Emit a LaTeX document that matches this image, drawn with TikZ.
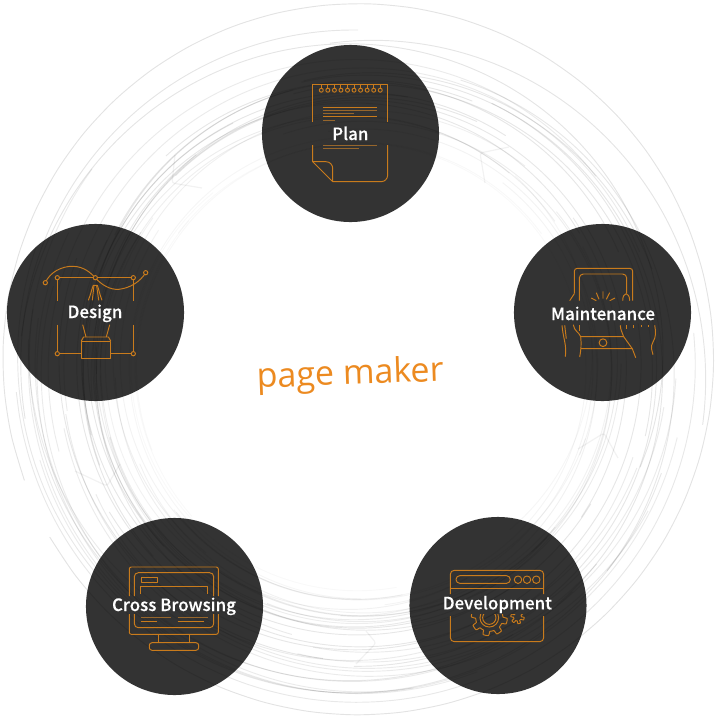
\documentclass[tikz,border=0pt]{standalone}
\usepackage{fontspec}
\newfontfamily\lblfont[UprightFont=* Medium,FakeBold=0.25]{Noto Sans CJK KR}
\newfontfamily\handfont{Open Sans}
\definecolor{disc}{HTML}{333333}
\definecolor{ico}{HTML}{C97B1C}
\definecolor{icodim}{HTML}{96662C}
\definecolor{hand}{HTML}{EC8A20}
\tikzset{
  stagecircle/.style={circle,fill=disc,minimum size=132.8pt,inner sep=0pt},
  lbl/.style={text=white,font=\lblfont\fontsize{12.7pt}{14pt}\selectfont,inner sep=0pt,anchor=base},
  icon/.style={draw=ico,line width=0.72pt,line join=round},
  dimline/.style={draw=icodim,line width=0.72pt},
  scribble/.style={draw=black,line width=0.7pt},
  kink/.style={draw=black,draw opacity=0.05,line width=0.9pt,rounded corners=2pt}
}
\newcommand{\spiral}[7]{% cx cy r0 r1 start end opacity
  \draw[scribble,draw opacity=#7] plot[domain=#5:#6,samples=48,smooth,variable=\t]
    ({#1+(#3+(#4-#3)*(\t-#5)/(#6-#5))*cos(\t)},{#2+(#3+(#4-#3)*(\t-#5)/(#6-#5))*sin(\t)});
}
\begin{document}
\begin{tikzpicture}[x=0.75pt,y=-0.75pt]
\useasboundingbox (0,0) rectangle (716,722);
\fill[white] (0,0) rectangle (716,722);
% discs
\node[stagecircle] (plan) at (350.5,133.5) {};
\node[stagecircle] (design) at (95.5,312.5) {};
\node[stagecircle] (maint) at (602.5,312.5) {};
\node[stagecircle] (cross) at (174.5,606.5) {};
\node[stagecircle] (devel) at (498,605.5) {};
% scribbles, laid over the discs so they darken them
\spiral{358}{359}{355}{356}{-200}{150}{0.11}
\spiral{362}{366}{342}{296}{-175}{20}{0.10}
\spiral{358}{364}{322}{350}{-95}{10}{0.10}
\spiral{360}{362}{335}{345}{-5}{175}{0.09}
\spiral{356}{362}{325}{340}{20}{200}{0.09}
\spiral{358}{366}{310}{330}{60}{190}{0.09}
\spiral{358}{362}{300}{325}{-70}{40}{0.09}
\spiral{358}{360}{338}{330}{-190}{-90}{0.10}
\pgfmathsetseed{2024}
\foreach \i in {1,...,44}{
  \pgfmathsetmacro{\cx}{358+rand*5}
  \pgfmathsetmacro{\cy}{365+rand*5}
  \pgfmathsetmacro{\ra}{224+rnd*72}
  \pgfmathsetmacro{\rb}{max(221,\ra+rand*18)}
  \pgfmathsetmacro{\st}{rnd*360}
  \pgfmathsetmacro{\en}{\st+80+rnd*130}
  \pgfmathsetmacro{\aa}{0.025+0.07*min(1,(min(\ra,\rb)-221)/45)}
  \spiral{\cx}{\cy}{\ra}{\rb}{\st}{\en}{\aa}
}
\foreach \i in {1,...,14}{
  \pgfmathsetmacro{\cx}{358+rand*6}
  \pgfmathsetmacro{\cy}{362+rand*6}
  \pgfmathsetmacro{\ra}{285+rnd*55}
  \pgfmathsetmacro{\rb}{\ra+rand*18}
  \pgfmathsetmacro{\st}{-10+rnd*200}
  \pgfmathsetmacro{\en}{\st+60+rnd*110}
  \spiral{\cx}{\cy}{\ra}{\rb}{\st}{\en}{0.08}
}
\draw[kink] (175,155) -- (172,183) -- (202,188);
\draw[kink] (509,147) -- (480,153) -- (485,183);
\draw[kink] (578,449) -- (604,433) -- (618,458);
\draw[kink] (75,471) -- (107,486) -- (120,464);
\draw[kink] (356,664) -- (376,643) -- (366,631);
% PLAN icon
\draw[icon] (312.7,122) -- (312.7,84.3) -- (387.7,84.3) -- (387.7,122);
\draw[icon,rounded corners=5pt] (387.7,145) -- (387.7,181.7) -- (332.7,181.7);
\draw[icon] (312.7,145) -- (312.7,161.7) -- (332.7,181.7);
\draw[icon,rounded corners=5pt] (312.7,161.7) -- (332.7,161.7) -- (332.7,181.7);
\foreach \k in {0,...,9}{
  \draw[icon] ({321.3+\k*6.55},84.3) -- ({321.3+\k*6.55},88.2);
  \draw[icon] ({321.3+\k*6.55},90.2) circle[radius=1.5pt];
}
\draw[icon] (323,107) -- (377,107);
\draw[dimline] (323,110) -- (377,110);
\draw[dimline] (323,113) -- (353.7,113);
\draw[icon] (323,116.3) -- (377,116.3);
\draw[dimline] (323,120.7) -- (334.7,120.7);
\draw[dimline] (323,145.7) -- (377,145.7);
\draw[dimline] (323,148.7) -- (359,148.7);
% DESIGN icon
\draw[icon] (57.3,277.7) -- (133.3,277.7);
\draw[icon] (57.3,277.7) -- (57.3,300.7) (133.3,277.7) -- (133.3,300.7);
\draw[icon] (57.3,324.7) -- (57.3,353.7) -- (81.3,353.7) (133.3,324.7) -- (133.3,353.7) -- (110.7,353.7);
\draw[icon] (81.3,341) rectangle (110.7,358.3);
\draw[icon] (81.3,341) -- (83.5,337) -- (108.5,337) -- (110.7,341);
\draw[icon] (45.3,282.7) .. controls (50,272) and (62,266) .. (73,266.3) .. controls (84,266.5) and (91,273) .. (95.3,278) .. controls (102,285) and (110,290) .. (119,289.3) .. controls (130,288) and (140,282) .. (145.7,272.7);
\foreach \p in {(45.3,282.7),(57.3,277.7),(95.3,277.7),(133.3,277.7),(145.7,272.7),(57.3,353.7),(133.3,353.7)}{
  \fill[disc] \p circle[radius=1.6pt];
  \draw[icon] \p circle[radius=1.6pt];
}
\draw[icon] (88.3,300.3) .. controls (91,294) and (92,288) .. (93.3,285.3) -- (97.3,285.3) .. controls (98.5,288) and (99.5,294) .. (102,300.3);
\draw[icon] (92.3,300.3) -- (94,285.3) (98.7,300.3) -- (96.6,285.3);
\draw[icon] (82.7,324.7) -- (86,337) (109.7,324.7) -- (106.3,337);
% MAINTENANCE icon
\draw[icon,rounded corners=2.2pt] (574.3,293.7) -- (574.3,268.3) -- (632.7,268.3) -- (632.7,300.7);
\draw[icon] (569.7,300.7) -- (574.3,293.7);
\draw[icon,rounded corners=3pt] (579.3,300.7) -- (579.3,274) -- (626.7,274) -- (626.7,293.7);
\draw[icon] (622.7,300.7) .. controls (622.7,291.5) and (629.5,291.5) .. (629.7,300.7);
\draw[icon] (573.3,324.7) .. controls (574,331) and (579,332) .. (580.7,336.7) -- (623.7,336.7) .. controls (622,332) and (620.5,330) .. (620.3,325.3);
\draw[icon] (579.3,325.3) -- (579.3,331);
\draw[icon] (581,348.7) -- (632.3,348.7) -- (635.7,357.7);
\draw[icon] (623.7,336.7) -- (632.3,348.7);
\draw[icon] (580.7,336.7) .. controls (581.5,344) and (581,350) .. (579.7,357);
\draw[icon] (603,342.7) circle[radius=2.9pt];
\draw[icon] (562,325.3) .. controls (563,338) and (567,345) .. (565.3,356.7);
\draw[icon] (564.7,325.3) -- (566.3,338.7);
\draw[icon] (654.7,325.3) .. controls (656,332) and (656,337) .. (653,342) .. controls (650,347) and (652,350) .. (653,354.7);
\draw[icon] (626.3,325.3) -- (626.3,329) (633,325.3) -- (633,328) (641.3,325.3) -- (641.3,327) (648,325.3) -- (648,326.7);
\draw[icon] (603,291.3) -- (603,298.7) (596.3,292.7) -- (599,299.3) (609.7,292.7) -- (606.3,299.3) (591.3,298) -- (596.3,300.7) (615,298) -- (609.7,300.7);
% CROSS BROWSING icon
\draw[icon,rounded corners=1.5pt] (129.3,596) -- (129.3,567) -- (218.3,567) -- (218.3,596);
\draw[icon,rounded corners=1.5pt] (129.3,614) -- (129.3,634.3) -- (218.3,634.3) -- (218.3,614);
\draw[icon,rounded corners=3pt] (134.3,596) -- (134.3,572.7) -- (213.7,572.7) -- (213.7,596);
\draw[icon,rounded corners=3pt] (134.3,614) -- (134.3,627.7) -- (213.7,627.7) -- (213.7,614);
\draw[icon] (158.7,634.3) -- (158.7,642.7) (189.7,634.3) -- (189.7,642.7);
\draw[icon,rounded corners=2pt] (149.3,650.3) -- (149.3,642.7) -- (198.7,642.7) -- (198.7,650.3) -- cycle;
\draw[icon] (141.3,577.3) rectangle (157.7,582.3);
\draw[icon] (140.7,594) -- (140.7,586.3) -- (207.7,586.3) -- (207.7,594);
\draw[dimline] (140.7,617.7) -- (170.7,617.7) (177.7,617.7) -- (207.7,617.7);
\draw[icon] (140.7,621) -- (157.3,621) (177.7,621) -- (203.7,621);
% DEVELOPMENT icon
\draw[icon,rounded corners=3pt] (450.3,594) -- (450.3,570.3) -- (543.7,570.3) -- (543.7,594);
\draw[icon,rounded corners=3pt] (450.3,616) -- (450.3,641.7) -- (543.7,641.7) -- (543.7,616);
\draw[icon] (450.3,588.7) -- (543.7,588.7);
\draw[icon,rounded corners=2.8pt] (456,575.7) rectangle (510.3,583.3);
\foreach \xx in {518,527,536.3}{\draw[icon] (\xx,579.7) circle[radius=2.8pt];}
\begin{scope}
  \clip (465,614.5) rectangle (530,640);
  \draw[icon] (489.3,617.7) circle[radius=5pt];
  \draw[icon] (489.3,617.7) circle[radius=7pt];
  \draw[icon] plot[domain=0:360,samples=181,variable=\t] ({489.3+(15.8+2.2*tanh(5*sin(8*\t)))*cos(\t)},{617.7+(15.8+2.2*tanh(5*sin(8*\t)))*sin(\t)});
  \draw[icon] plot[domain=0:360,samples=121,variable=\t] ({517.5+(5.3+1.4*tanh(5*sin(6*\t)))*cos(\t)},{617+(5.3+1.4*tanh(5*sin(6*\t)))*sin(\t)});
\end{scope}
% labels
\node[lbl] (tplan) at (350.3,140) {Plan};
\node[lbl] (tdesign) at (95,318) {Design};
\node[lbl] (tmaint) at (603,320) {Maintenance};
\node[lbl] (tcross) at (174,611) {Cross Browsing};
\node[lbl] (tdevel) at (497.3,609.3) {Development};
\node[text=hand,font=\handfont\fontsize{25.5pt}{30pt}\selectfont,rotate=2,inner sep=0pt,anchor=base] (title) at (350.5,384.5) {page maker};
\end{tikzpicture}
\end{document}
